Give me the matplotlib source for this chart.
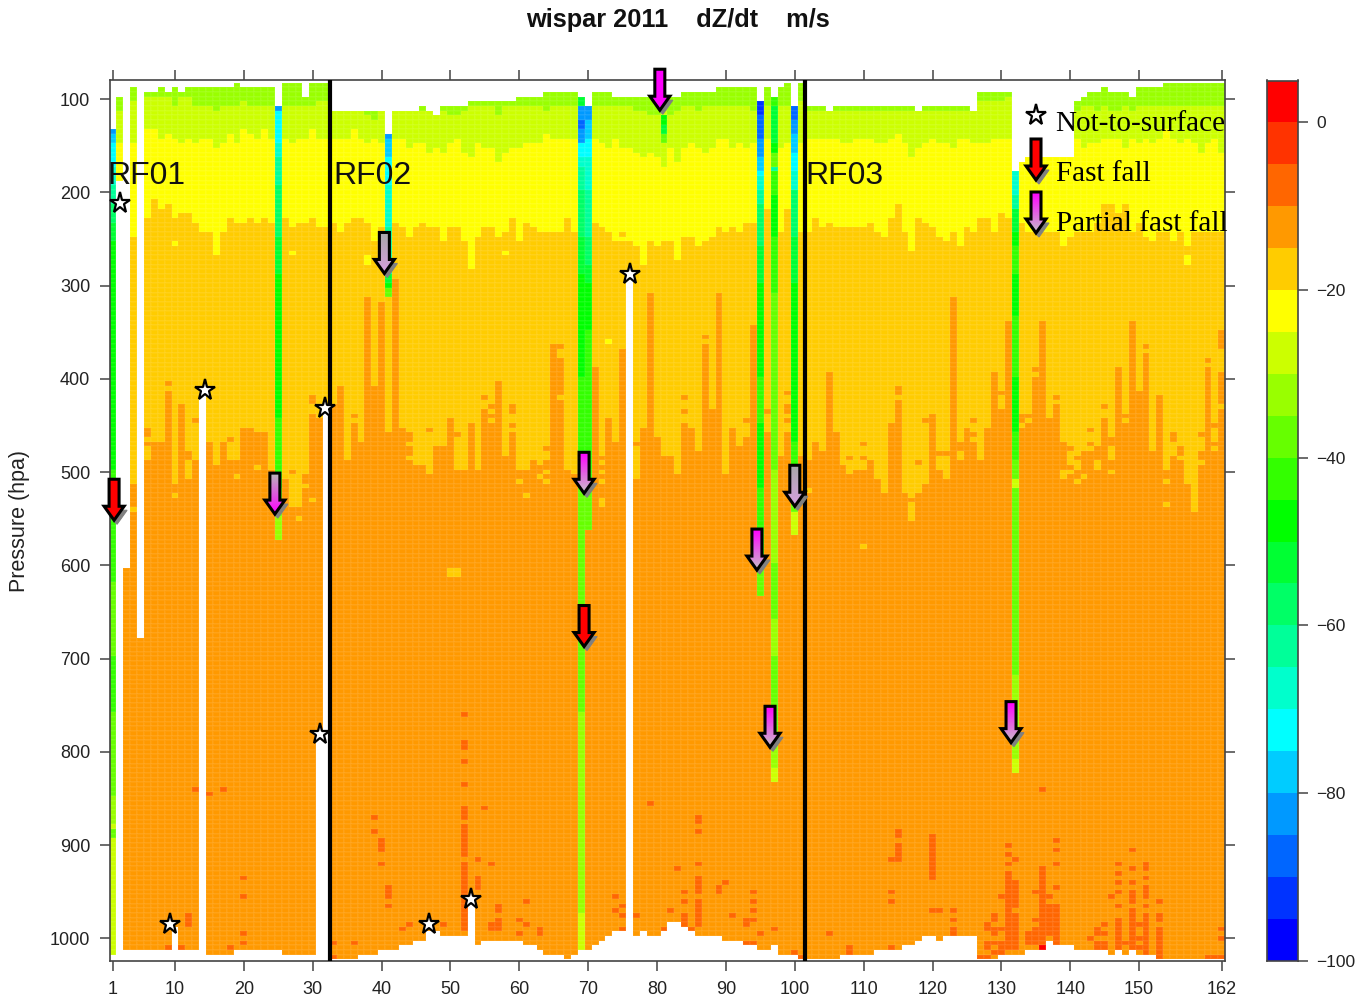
import numpy as np
import matplotlib
matplotlib.use("Agg")
import matplotlib.pyplot as plt
from matplotlib.colors import ListedColormap, BoundaryNorm, LinearSegmentedColormap
from matplotlib.patches import Polygon

W, H = 1369, 1001
plt.rcParams['font.family'] = ['Liberation Sans', 'DejaVu Sans']

band_colors = ['#0000ff','#0033ff','#0066ff','#0099ff','#00ccff','#00ffff','#00ffcc','#00ff99','#00ff66','#00ff33',
               '#00ff00','#33ff00','#66ff00','#99ff00','#ccff00','#ffff00','#ffcc00','#ff9900','#ff6600','#ff3300','#ff0000']
band_edges = list(range(-100, 10, 5))

top_p = [135,100,605,90,680,95,95,90,95,90,
         95,90,90,90,90,90,90,90,85,90,
         90,90,90,90,110,85,85,85,100,85,
         85,85,115,115,115,115,115,115,115,115,
         140,115,115,115,115,110,115,120,110,110,
         110,110,105,105,105,105,105,105,105,100,
         100,100,100,95,95,95,95,95,100,110,
         95,95,95,100,100,100,100,100,100,100,
         100,100,100,95,95,95,95,95,90,90,
         90,90,90,90,105,90,100,90,85,110,
         85,110,110,110,115,110,110,110,110,110,
         110,110,110,110,110,110,110,115,110,110,
         110,110,110,110,110,115,95,95,95,95,
         95,180,170,165,165,165,165,165,165,165,
         105,100,95,95,90,95,95,95,100,90,
         90,90,90,85,85,85,85,85,85,85,85,85]
bottom_p = [1015,185,1010,1010,1010,1010,1010,1010,1010,985,
            1010,1010,1010,415,1015,1015,1015,1015,1010,1010,
            1010,1010,1010,1010,1010,1015,1015,1015,1015,1015,
            775,430,1020,1020,1020,1020,1015,1015,1015,1010,
            1010,1010,1005,1005,1000,1000,990,990,995,995,
            995,995,960,1005,1000,1000,1000,1000,1000,1000,
            1005,1005,1010,1015,1015,1015,1020,1015,1010,1010,
            1005,1000,995,990,990,285,995,990,995,995,
            990,980,980,985,990,995,995,995,995,1000,
            1000,1000,1005,1005,1010,1010,1005,1015,1015,1015,
            1020,1020,1020,1020,1020,1020,1015,1015,1015,1015,
            1015,1010,1010,1010,1010,1005,1005,1000,995,995,
            1000,995,995,995,995,995,1020,1020,1020,1015,
            1015,1015,1015,1010,1010,1010,1000,1005,1005,1005,
            1010,1010,1010,1010,1010,1015,1010,1015,1010,1015,
            1015,1015,1020,1020,1020,1020,1020,1020,1020,1020,1020,1020]
# first pressure level of each band, column by column
lime_start = [0,115,0,105,0,100,100,100,100,110,
              100,100,110,110,110,115,110,110,110,105,
              110,110,110,110,0,110,110,110,110,110,
              105,105,115,115,115,115,115,120,125,115,
              0,115,115,115,115,115,115,120,115,120,
              120,115,110,110,110,110,120,110,110,110,
              110,110,110,115,110,110,110,110,0,0,
              110,110,110,110,110,110,115,115,120,120,
              115,120,115,110,110,115,110,110,110,110,
              110,110,110,115,0,110,0,110,110,0,
              105,115,115,115,115,115,115,115,115,115,
              115,115,115,115,115,115,115,115,115,115,
              115,115,115,115,115,115,105,105,105,105,
              100,0,0,0,0,0,0,0,0,0,
              115,110,110,115,110,115,115,110,115,110,
              110,110,110,110,110,110,110,110,110,110,110,110]
yellow_start = [0,150,0,150,0,135,135,145,140,145,
                150,145,150,145,145,155,150,140,150,135,
                140,145,135,145,0,145,150,145,145,135,
                145,145,145,145,145,135,145,150,145,150,
                0,145,145,155,150,150,160,155,160,150,
                145,160,165,150,155,155,170,160,155,155,
                150,150,150,140,145,145,145,145,0,0,
                145,150,155,145,155,155,160,165,160,165,
                175,155,170,155,150,155,160,155,145,145,
                155,150,155,150,0,145,0,155,150,0,
                150,145,145,145,145,145,150,150,145,145,
                145,150,150,145,140,150,165,155,150,145,
                150,150,155,145,145,150,150,150,145,145,
                145,0,0,0,0,0,0,0,0,0,
                145,155,150,150,145,145,145,155,145,150,
                145,150,145,135,145,150,145,150,160,150,145,160]
amber_start = [0,999,0,250,0,230,210,220,220,230,
               225,225,235,245,245,270,245,230,235,235,
               230,235,230,235,0,230,240,235,235,230,
               240,240,235,245,235,230,230,235,255,240,
               0,235,240,250,240,235,240,240,255,240,
               240,255,285,250,240,240,250,245,230,255,
               235,240,245,245,245,245,230,245,0,0,
               235,240,245,255,255,255,260,280,255,260,
               255,255,275,250,250,260,255,250,240,245,
               240,245,235,235,0,220,0,245,220,0,
               245,245,230,240,235,240,240,240,240,240,
               235,245,250,230,215,245,265,230,235,240,
               250,255,245,260,240,245,230,230,245,225,
               230,0,235,245,245,245,245,245,260,250,
               245,245,245,235,215,215,225,215,245,235,
               250,255,245,245,255,245,260,245,245,245,245,245]
orange_start = [0,999,0,515,0,490,470,470,415,515,
                430,510,490,999,470,495,470,490,490,455,
                455,460,460,500,0,510,540,540,505,440,
                445,999,430,410,490,465,470,315,410,320,
                0,295,455,490,495,495,505,475,475,445,
                500,500,450,500,435,430,405,485,460,500,
                500,490,495,490,365,380,500,505,0,0,
                390,485,445,470,370,999,510,455,310,465,
                485,485,505,450,455,480,365,435,310,505,
                455,475,465,345,0,460,0,485,460,0,
                485,490,470,480,395,460,495,505,500,500,
                490,510,525,450,425,525,555,525,515,440,
                480,480,315,470,455,470,490,455,395,435,
                340,0,440,440,400,340,445,430,470,475,
                485,480,480,475,445,465,390,450,340,415,
                375,480,420,500,485,490,515,545,480,390,450,395]

orange_patches = {6:[455,460,470],9:[405],12:[480,485],13:[445],18:[465],27:[500],30:[420,425],36:[440,450,455,460],
                  44:[460,465,475,480],47:[455],51:[460],55:[420],59:[430,435,450],64:[475],66:[365],77:[470],
                  84:[420,435],87:[355],93:[445],96:[435],99:[415,430,435,445],108:[485],110:[470,485],115:[410,415],
                  117:[530],118:[490],119:[445],126:[445,460],130:[415],135:[390],138:[420],143:[455,470],145:[430],
                  148:[440],151:[365],155:[460,465],156:[475,480],159:[460],160:[380],162:[350,355,360,365]}
amber_pockets = {4:[540],10:[525],19:[505],22:[495],28:[550],29:[515],30:[530],50:[605,610],51:[605,610],56:[435,445],
                 60:[510],61:[525],63:[505],64:[500,510],66:[420],72:[490,500,510,530,535],102:[520],110:[580],
                 121:[485,490,495],122:[485,490,495,500,505],124:[480,485],133:[450],134:[445],139:[500,505],
                 140:[480,485,490,500],141:[490,495,510],142:[505],144:[490,495],146:[475,480,485,500],
                 152:[475],154:[510,535],159:[490],161:[455,460,465,475],162:[430]}
yellow_pockets = {10:[255],27:[265],38:[270,275],58:[265],73:[360],157:[270,275]}
amber_in_yellow = {9:[215],75:[245]}
dark_cells = {9:[1010],11:[1010],12:[975,980,985],13:[840],15:[845],17:[840],18:[1010],20:[935,955,995,1005],
              33:[1005,1020],36:[1005],39:[870,885],40:[895,900,905,920],41:[945,950,955,965],43:[990],44:[985],49:[985],
              52:[760,790,795,810,835,860,865,870,880,885,890,895,900,905,910,920,925,930,935,940,945,950,955,960,965,970,975,980,985,990,1005],
              54:[915,935,940,945],55:[860],56:[920,985,990],57:[965,970,980,985,990],60:[980,995],61:[960,985],63:[990,995],
              74:[955,970],75:[965,975,990],77:[975],79:[855],81:[990],82:[970],83:[925],84:[950,960,975,980,985],85:[990],
              86:[870,875,885,920,935,940,945,950,960,965,970,975,980,985],89:[945,950],90:[940],91:[975],93:[980,985,1005],
              94:[950,960,970,980,1005],95:[995],97:[990],100:[1015],101:[1020],105:[995],108:[1010,1015],
              114:[915,950,960,1010],115:[885,890,900,905,910,915],120:[890,895,900,905,910,915,920,925,930,935,970],121:[970],
              123:[970,980,990,995],127:[1020],128:[985,990,1005,1010,1020],129:[975,980,990,995,1005,1015],130:[955,990,1005,1010,1015],
              131:[900,910,920,930,935,940,945,950,955,960,965,970,975,980,985,990,995,1000,1005,1010],
              132:[915,940,945,950,955,960,965,975,980,985,990,995,1000,1005,1010],
              134:[995,1000,1005],135:[950,980,990,995,1000,1005],
              136:[840,925,930,935,940,945,950,955,960,965,970,975,980,985,990,995,1000,1005],
              137:[955,965,970,975,980,985,990,995],138:[895,905,920,945,965,970,975,980,985,990,995,1000,1005],
              143:[1000],144:[990,995,1005,1010],145:[985,995,1005,1010],146:[955],
              147:[920,930,940,950,965,980,985,990,995,1000,1005,1010],148:[1005],
              149:[905,925,940,950,955,960,970,975,980,985,990,995,1000,1005,1010],150:[985,1000,1010],
              151:[920,925,935,945,950,955,965,975,980,985,990,995,1000,1005,1010,1015],
              153:[960,975,980,990,995,1000,1005,1010,1015,1020],160:[1020],161:[1020],162:[990,1000,1020]}
red_cells = {136:[1010]}

strip_c1 = [(135,-82.5),(140,-77.5),(150,-72.5),(175,-67.5),(195,-62.5),(215,-57.5),(235,-52.5),(255,-47.5),(500,-42.5),
            (620,-37.5),(700,-42.5),(760,-37.5),(850,-32.5),(880,-27.5),(885,-37.5),(895,-27.5)]
strip_c25 = [(110,-82.5),(115,-72.5),(150,-67.5),(165,-62.5),(195,-57.5),(250,-52.5),(290,-47.5),(445,-42.5),(520,-37.5),(550,-32.5),(575,-12.5)]
strip_c41 = [(140,-82.5),(145,-77.5),(165,-72.5),(195,-67.5),(240,-62.5),(290,-52.5),(300,-47.5),(305,-37.5),(315,-17.5),(460,-12.5)]
strip_c69 = [(100,-52.5),(110,-82.5),(125,-87.5),(135,-82.5),(150,-72.5),(165,-67.5),(175,-62.5),(200,-57.5),(250,-52.5),(290,-47.5),
             (400,-42.5),(500,-37.5),(760,-32.5),(975,-27.5)]
strip_c70 = [(110,-82.5),(125,-77.5),(145,-72.5),(165,-67.5),(200,-62.5),(250,-57.5),(280,-52.5),(300,-47.5),(350,-42.5),(520,-37.5),(565,-12.5)]
strip_c95 = [(105,-92.5),(120,-87.5),(145,-82.5),(165,-77.5),(180,-72.5),(185,-67.5),(200,-62.5),(215,-57.5),(260,-52.5),(300,-47.5),
             (400,-42.5),(450,-47.5),(520,-42.5),(600,-37.5),(635,-12.5)]
strip_c97 = [(100,-42.5),(110,-52.5),(150,-47.5),(160,-37.5),(175,-62.5),(180,-42.5),(205,-47.5),(250,-42.5),(310,-37.5),(500,-32.5),
             (600,-37.5),(660,-32.5),(700,-37.5),(780,-32.5),(820,-27.5),(835,-12.5)]
strip_c100 = [(110,-87.5),(125,-82.5),(140,-77.5),(160,-72.5),(180,-67.5),(200,-57.5),(250,-52.5),(300,-47.5),(470,-42.5),(520,-37.5),(545,-27.5),(570,-12.5)]
strip_c132 = [(180,-67.5),(205,-62.5),(220,-52.5),(245,-47.5),(260,-42.5),(290,-47.5),(335,-42.5),(400,-47.5),(460,-42.5),(490,-37.5),
              (510,-27.5),(520,-37.5),(720,-32.5),(810,-27.5),(825,-12.5)]
strips = {1:strip_c1,25:strip_c25,41:strip_c41,69:strip_c69,70:strip_c70,95:strip_c95,97:strip_c97,100:strip_c100,132:strip_c132}
c81_green = [(120,-47.5),(125,-47.5),(130,-52.5),(135,-52.5),(140,-37.5),(145,-37.5)]

levels = np.arange(85, 1025, 5)
columns = np.arange(1, 163)
assert all(len(v) == 162 for v in (top_p, bottom_p, lime_start, yellow_start, amber_start, orange_start))

field = np.full((len(levels), 162), np.nan)
for j, c in enumerate(columns):
    for i, p in enumerate(levels):
        if p < top_p[j] or p > bottom_p[j]:
            continue
        if c in strips:
            v = np.nan
            for s, val in strips[c]:
                if p >= s:
                    v = val
        elif orange_start[j] == 0 and amber_start[j] == 0:
            v = -12.5
        elif p >= orange_start[j]:
            v = -12.5
        elif p >= amber_start[j]:
            v = -17.5
        elif p >= yellow_start[j]:
            v = -22.5
        elif p >= lime_start[j]:
            v = -27.5
        else:
            v = -32.5
        field[i, j] = v

def put(cells, val):
    for c, plist in cells.items():
        for p in plist:
            i = (p - 85) // 5
            if not np.isnan(field[i, c - 1]):
                field[i, c - 1] = val
put(orange_patches, -12.5)
put(amber_pockets, -17.5)
put(yellow_pockets, -22.5)
put(amber_in_yellow, -17.5)
put(dark_cells, -7.5)
put(red_cells, 2.5)
for p, v in c81_green:
    field[(p - 85) // 5, 80] = v

cmap = ListedColormap(band_colors)
cmap.set_bad((1, 1, 1, 0))
norm = BoundaryNorm(band_edges, cmap.N)

def rect(l, t, r, b):
    return [l / W, 1 - b / H, (r - l) / W, (b - t) / H]

fig = plt.figure(figsize=(W / 100, H / 100), dpi=100, facecolor='white')
ax = fig.add_axes(rect(109.6, 80, 1225.2, 960.5))
x_edges = np.arange(0.5, 163.5, 1)
y_edges = np.arange(82.5, 1027.5, 5)
ax.pcolormesh(x_edges, y_edges, np.ma.masked_invalid(field), cmap=cmap, norm=norm, edgecolors=(1, 1, 1, 0.05), linewidth=0.3)
ax.set_xlim(0.5, 162.5)
ax.set_ylim(1023.6, 79.6)

frame_c = '#444444'
for s in ax.spines.values():
    s.set_color(frame_c)
    s.set_linewidth(1.2)
x_ticks = [1, 10, 20, 30, 40, 50, 60, 70, 80, 90, 100, 110, 120, 130, 140, 150, 162]
y_ticks = [100, 200, 300, 400, 500, 600, 700, 800, 900, 1000]
ax.set_xticks(x_ticks)
ax.set_yticks(y_ticks)
ax.tick_params(axis='both', length=7, width=1.1, color=frame_c, labelsize=13, labelcolor='#222222',
               top=True, right=True, pad=7)
ax.tick_params(axis='x', pad=8)

rf_x = [0.15, 33.0, 101.6]
rf_labels = ['RF01', 'RF02', 'RF03']
for x, s in zip(rf_x, rf_labels):
    ax.text(x, 183, s, fontsize=23, color='#111111', ha='left', va='center', clip_on=False, zorder=6)
flight_breaks = [32.5, 101.5]
for x in flight_breaks:
    ax.axvline(x, color='black', lw=3, zorder=5)

star_x = [2, 9.3, 14.4, 31.8, 31, 46.9, 53, 76]
star_p = [211, 985, 412, 431.5, 781, 985, 958, 288]
ax.plot(star_x, star_p, ls='none', marker='*', ms=15.5, mfc='white', mec='black', mew=1.6, zorder=8, clip_on=False)

# colour bar
cax = fig.add_axes(rect(1267, 80.5, 1298, 960.7))
cax.pcolormesh([0, 1], band_edges, np.array(band_edges[:-1])[:, None] + 2.5, cmap=cmap, norm=norm)
cax.set_xticks([])
cax.yaxis.tick_right()
cb_ticks = [0, -20, -40, -60, -80, -100]
cax.set_yticks(cb_ticks)
cax.set_yticklabels(['0', '\u221220', '\u221240', '\u221260', '\u221280', '\u2212100'])
cax.tick_params(axis='y', length=7, width=1.1, color=frame_c, labelsize=12.5, labelcolor='#222222', pad=6)
for s in cax.spines.values():
    s.set_color(frame_c)
    s.set_linewidth(1.2)

# overlay in pixel units for arrows and legend
ov = fig.add_axes([0, 0, 1, 1], zorder=10)
ov.set_xlim(0, W)
ov.set_ylim(H, 0)
ov.axis('off')
ov.patch.set_alpha(0)

arrow_x = [1.15, 24.5, 40.4, 69.4, 69.4, 80.4, 94.5, 96.4, 100.0, 131.4]
arrow_tip = [551.6, 545, 287, 522.7, 687, 112, 605, 795, 536.6, 790]
arrow_style = ['red', 'gm', 'pale', 'mg', 'red', 'magenta', 'mg', 'mg', 'pale', 'mg']
ramp = {'red': ['#ff0000', '#ff0000'], 'magenta': ['#ff00ff', '#ff00ff'], 'mg': ['#ff00ff', '#c8c0c8'],
        'gm': ['#b8b8b8', '#ff00ff'], 'pale': ['#a8a8a8', '#d8a0e0']}

def draw_arrow(px, py, style):
    shape = np.array([[-5, -41], [5, -41], [5, -14], [10, -14], [0, 0], [-10, -14], [-5, -14]], float)
    pts = shape + [px, py]
    head = np.array([[6, -14], [10, -14], [0, 0], [-4, -4]], float) + [px, py]
    ov.add_patch(Polygon(head + [3, 4], closed=True, fc='#808080', ec='#808080', lw=0.8, zorder=1))
    cm = LinearSegmentedColormap.from_list('a', ramp[style])
    poly = Polygon(pts, closed=True, fc='none', ec='black', lw=2.2, joinstyle='miter', zorder=3)
    ov.add_patch(poly)
    im = ov.imshow(np.linspace(0, 1, 64)[:, None], cmap=cm, aspect='auto', vmin=0, vmax=1,
                   extent=(px - 11, px + 11, py, py - 41), zorder=2)
    im.set_clip_path(Polygon(pts, closed=True, transform=ov.transData))

for x, p, st in zip(arrow_x, arrow_tip, arrow_style):
    dx, dy = ax.transData.transform((x, p))
    draw_arrow(dx, H - dy, st)

legend_labels = ['Not-to-surface', 'Fast fall', 'Partial fast fall']
legend_y = [124, 174, 224]
for s, y in zip(legend_labels, legend_y):
    ov.text(1055.5, y, s, fontsize=21, family=['Liberation Serif'], color='black', ha='left', va='center', zorder=6)
ov.plot([1036], [115], ls='none', marker='*', ms=15.5, mfc='white', mec='black', mew=1.6, zorder=6)
draw_arrow(1036, 180, 'red')
draw_arrow(1036, 233, 'mg')

ov.set_xlim(0, W)
ov.set_ylim(H, 0)

fig.text(677.5 / W, 1 - 20 / H, 'wispar 2011    dZ/dt    m/s', fontsize=18.3, fontweight='bold', color='#111111', ha='center', va='center')
fig.text(20 / W, 1 - 521 / H, 'Pressure (hpa)', fontsize=15.5, rotation=90, color='#222222', ha='center', va='center')

fig.savefig('out.png', dpi=100, facecolor='white')
